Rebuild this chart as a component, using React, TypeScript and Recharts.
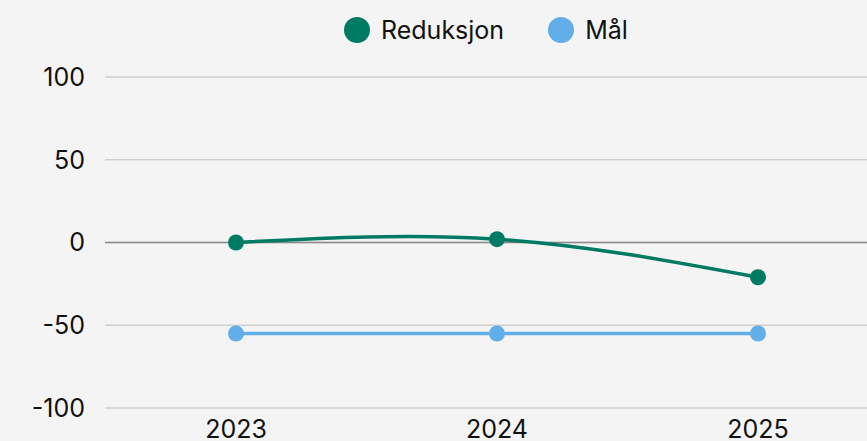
import { LineChart, Line, XAxis, YAxis, CartesianGrid, Legend, ReferenceLine } from "recharts";

const years = ["2023", "2024", "2025"];
const reduksjon = [0, 2, -21];
const maal = [-55, -55, -55];
const yTicks = [-100, -50, 0, 50, 100];

const data = years.map((year, i) => ({ year, Reduksjon: reduksjon[i], "Mål": maal[i] }));

const font = "Inter, sans-serif";
const series = [
  { key: "Reduksjon", color: "#007b63" },
  { key: "Mål", color: "#62aee8" },
];

const LegendBox = () => (
  <div style={{ display: "flex", alignItems: "center", height: 26, paddingLeft: 344 }}>
    {series.map((s) => (
      <div key={s.key} style={{ display: "flex", alignItems: "center", marginRight: 44 }}>
        <span style={{ width: 26, height: 26, borderRadius: 13, background: s.color, display: "inline-block" }} />
        <span style={{ marginLeft: 11, fontSize: 25, color: "#111", lineHeight: "26px" }}>{s.key}</span>
      </div>
    ))}
  </div>
);

const App = () => {
  return (
    <div style={{ position: "absolute", left: 0, top: 0, width: 867, height: 441, background: "#f3f4f3", fontFamily: font, overflow: "hidden" }}>
      <LineChart width={867} height={441} data={data} margin={{ top: 51, right: 0, bottom: 0, left: 0 }}>
        <CartesianGrid vertical={false} stroke="#cfcfcf" strokeWidth={1.5} />
        <ReferenceLine y={0} stroke="#8a8a8a" strokeWidth={1.5} />
        <XAxis
          dataKey="year"
          axisLine={false}
          tickLine={false}
          padding={{ left: 131, right: 109 }}
          height={33}
          tickMargin={6}
          tick={{ fill: "#111", fontSize: 25 }}
        />
        <YAxis
          domain={[-100, 100]}
          ticks={yTicks}
          width={105}
          axisLine={false}
          tickLine={false}
          tickMargin={14}
          tick={{ fill: "#111", fontSize: 25 }}
        />
        <Legend verticalAlign="top" content={<LegendBox />} wrapperStyle={{ left: 0, top: 17, width: 867 }} />
        <Line type="natural" dataKey="Reduksjon" stroke="#007b63" strokeWidth={3.5} dot={{ r: 8, fill: "#007b63", strokeWidth: 0 }} isAnimationActive={false} />
        <Line type="linear" dataKey="Mål" stroke="#62aee8" strokeWidth={3.5} dot={{ r: 8, fill: "#62aee8", strokeWidth: 0 }} isAnimationActive={false} />
      </LineChart>
    </div>
  );
};

export default App;
